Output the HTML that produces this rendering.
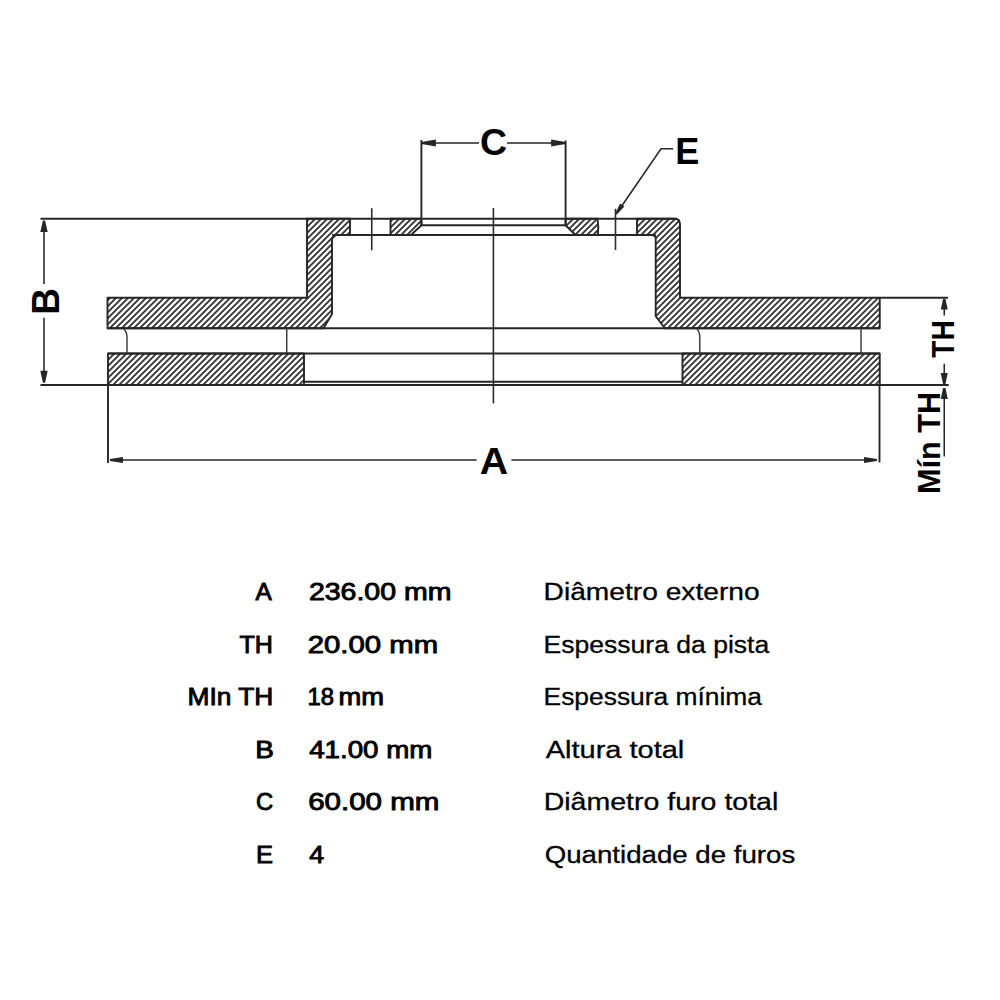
<!DOCTYPE html>
<html><head><meta charset="utf-8">
<style>
html,body{margin:0;padding:0;background:#fff;}
svg{display:block;}
.lb{font-family:"Liberation Sans",sans-serif;font-weight:bold;fill:#000;}
.tt text{font-family:"Liberation Sans",sans-serif;fill:#000;stroke:#000;}
</style></head>
<body>
<svg width="1000" height="1000" viewBox="0 0 1000 1000">
<defs>
<pattern id="h" patternUnits="userSpaceOnUse" width="6" height="6">
<path d="M-1.5,1.5 L1.5,-1.5 M0,6 L6,0 M4.5,7.5 L7.5,4.5" stroke="#303030" stroke-width="1.8"/>
</pattern>
</defs>
<rect width="1000" height="1000" fill="#fff"/>
<g fill="url(#h)" stroke="#262626" stroke-width="1.9" stroke-linejoin="round">
<path d="M107.5,297.75 L307,297.75 L307,218.75 L350,218.75 L350,235 L335.8,235 L332,238.5 L332,314 L323.5,328.3 L107.5,328.3 Z"/>
<path d="M390.5,218.75 L421.4,218.75 L421.4,225.2 L411,235 L390.5,235 Z"/>
<path d="M565.6,218.75 L597.5,218.75 Q599,227 597.8,235 L575.5,235 L565.6,225.2 Z"/>
<path d="M637,218.75 L674.5,218.75 Q680,218.75 680,224.25 L680,297.75 L879.75,297.75 L879.75,328.3 L664.8,328.3 L655.7,316.2 L655.7,238.5 Q655.7,235 651.5,235 L637,235 Z"/>
<rect x="108" y="353.5" width="196" height="31.5"/>
<rect x="682.5" y="353.5" width="197.25" height="31.5"/>
</g>
<g stroke="#262626" stroke-width="1.9" fill="none">
<path d="M40.5,218.75 H677"/>
<path d="M332,235 H655.7"/>
<path d="M421.4,225.2 H565.6"/>
<path d="M107.5,328.3 H879.75"/>
<path d="M108,353.5 H879.75"/>
<path d="M304,381.8 H682.5"/>
<path d="M40.5,385 H948.75"/>
<path d="M879.75,297.75 H948"/>
<path d="M421.4,140 V225.2"/>
<path d="M565.6,140.5 V225.2"/>
<path d="M108,385 V463"/>
<path d="M879.5,385 V462.5"/>
</g>
<g stroke="#2a2a2a" stroke-width="1.6" fill="none">
<path d="M493.4,208 V403.4"/>
<path d="M371.75,208.25 V250.25"/>
<path d="M615.5,208.75 V250"/>
</g>
<g stroke="#333" stroke-width="1.4" fill="none">
<path d="M122.5,328 Q127,331 127,337 V353.5"/>
<path d="M286.75,328 V353.5"/>
<path d="M696,328 Q699.8,331 699.8,337 V353.5"/>
<path d="M861,328 V353.5"/>
</g>
<g stroke="#262626" stroke-width="1.55" fill="none">
<path d="M44,228 V284"/>
<path d="M44,317.8 V375"/>
<path d="M430,143 H479"/>
<path d="M507,143 H557"/>
<path d="M118,460 H476.6"/>
<path d="M511.4,460 H869"/>
<path d="M944.25,305 V315.5"/>
<path d="M944.25,363.75 V377"/>
<path d="M944.25,395 V456.5"/>
<path d="M619,210 L661,148.75 H673"/>
</g>
<g fill="#262626">
<path d="M42.90,220.50 L40.30,232.00 L47.70,232.00 L45.10,220.50 Z"/>
<path d="M45.10,382.75 L47.70,370.75 L40.30,370.75 L42.90,382.75 Z"/>
<path d="M421.40,144.10 L435.90,146.50 L435.90,139.50 L421.40,141.90 Z"/>
<path d="M565.60,141.90 L551.10,139.50 L551.10,146.50 L565.60,144.10 Z"/>
<path d="M110.00,461.00 L123.00,463.10 L123.00,456.90 L110.00,459.00 Z"/>
<path d="M877.00,459.00 L864.00,456.90 L864.00,463.10 L877.00,461.00 Z"/>
<path d="M943.05,299.00 L940.75,309.50 L947.75,309.50 L945.45,299.00 Z"/>
<path d="M945.45,384.00 L947.75,373.00 L940.75,373.00 L943.05,384.00 Z"/>
<path d="M943.05,388.00 L940.75,399.00 L947.75,399.00 L945.45,388.00 Z"/>
<path d="M616.74,214.51 L624.39,206.42 L620.10,203.47 L615.26,213.49 Z"/>
</g>
<text class="lb" font-size="39" transform="translate(59.3,301.3) rotate(-90)" text-anchor="middle" textLength="26.80" lengthAdjust="spacingAndGlyphs">B</text>
<text class="lb" font-size="37.5" x="493.6" y="155" text-anchor="middle">C</text>
<text class="lb" font-size="37.5" x="675.3" y="163.75" textLength="24.10" lengthAdjust="spacingAndGlyphs">E</text>
<text class="lb" font-size="37.5" x="493.9" y="473.6" text-anchor="middle" textLength="28.40" lengthAdjust="spacingAndGlyphs">A</text>
<text class="lb" font-size="32" transform="translate(954,339.0) rotate(-90)" text-anchor="middle" textLength="37.46" lengthAdjust="spacingAndGlyphs">TH</text>
<text class="lb" font-size="31.6" transform="translate(939.75,443) rotate(-90)" text-anchor="middle" textLength="102.20" lengthAdjust="spacingAndGlyphs">Mín TH</text>
<g class="tt">
<text x="255.50" y="600" textLength="16.25" lengthAdjust="spacingAndGlyphs" stroke-width="0.9" font-size="24.5">A</text>
<text x="308.90" y="600" textLength="142.61" lengthAdjust="spacingAndGlyphs" stroke-width="0.9" font-size="24.5">236.00 mm</text>
<text x="543.60" y="600" textLength="216.04" lengthAdjust="spacingAndGlyphs" stroke-width="0.3" font-size="23.5">Diâmetro externo</text>
<text x="239.50" y="652.5" textLength="33.45" lengthAdjust="spacingAndGlyphs" stroke-width="0.9" font-size="24.5">TH</text>
<text x="307.70" y="652.5" textLength="130.37" lengthAdjust="spacingAndGlyphs" stroke-width="0.9" font-size="24.5">20.00 mm</text>
<text x="543.60" y="652.5" textLength="225.62" lengthAdjust="spacingAndGlyphs" stroke-width="0.3" font-size="23.5">Espessura da pista</text>
<text x="187.50" y="705" textLength="85.72" lengthAdjust="spacingAndGlyphs" stroke-width="0.9" font-size="24.5">MIn TH</text>
<text x="307.50" y="705" textLength="26.50" lengthAdjust="spacingAndGlyphs" stroke-width="0.9" font-size="23.2">18</text>
<text x="338.50" y="705" textLength="45.50" lengthAdjust="spacingAndGlyphs" stroke-width="0.9" font-size="24.5">mm</text>
<text x="543.60" y="705" textLength="218.36" lengthAdjust="spacingAndGlyphs" stroke-width="0.3" font-size="23.5">Espessura mínima</text>
<text x="255.30" y="757.5" textLength="18.63" lengthAdjust="spacingAndGlyphs" stroke-width="0.9" font-size="24.5">B</text>
<text x="309.20" y="757.5" textLength="123.14" lengthAdjust="spacingAndGlyphs" stroke-width="0.9" font-size="24.5">41.00 mm</text>
<text x="545.70" y="757.5" textLength="138.59" lengthAdjust="spacingAndGlyphs" stroke-width="0.3" font-size="23.5">Altura total</text>
<text x="256.00" y="810" textLength="17.21" lengthAdjust="spacingAndGlyphs" stroke-width="0.9" font-size="24.5">C</text>
<text x="308.20" y="810" textLength="131.18" lengthAdjust="spacingAndGlyphs" stroke-width="0.9" font-size="24.5">60.00 mm</text>
<text x="543.70" y="810" textLength="234.62" lengthAdjust="spacingAndGlyphs" stroke-width="0.3" font-size="23.5">Diâmetro furo total</text>
<text x="255.90" y="863" textLength="16.99" lengthAdjust="spacingAndGlyphs" stroke-width="0.9" font-size="24.5">E</text>
<text x="309.20" y="863" textLength="14.88" lengthAdjust="spacingAndGlyphs" stroke-width="0.9" font-size="24.5">4</text>
<text x="544.70" y="863" textLength="250.54" lengthAdjust="spacingAndGlyphs" stroke-width="0.3" font-size="23.5">Quantidade de furos</text>
</g>
</svg>
</body></html>
